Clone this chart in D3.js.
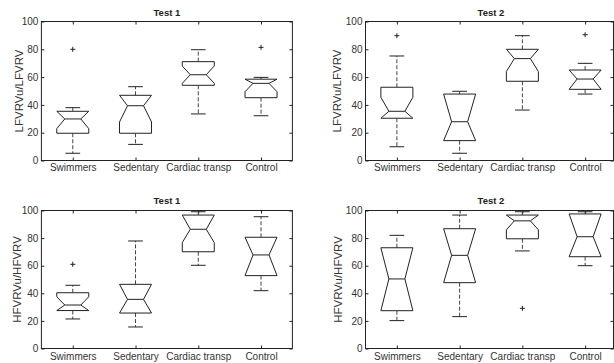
<!DOCTYPE html>
<html><head><meta charset="utf-8">
<script src="https://cdn.jsdelivr.net/npm/d3@7"></script>
<style>
html,body{margin:0;padding:0;background:#fff;}
svg{display:block;font-family:"Liberation Sans",Arial,sans-serif;}
</style></head>
<body><svg id="c" width="614" height="363"></svg>
<script>
// ---- data ----
const categories = ["Swimmers", "Sedentary", "Cardiac transp", "Control"];
const yTicks = [0, 20, 40, 60, 80, 100];
const panelTitles = ["Test 1", "Test 2", "Test 1", "Test 2"];
const yLabels = ["LFVRVu/LFVRV", "LFVRVu/LFVRV", "HFVRVu/HFVRV", "HFVRVu/HFVRV"];

// rows per category: [lowerWhisker, q1, notchLow, median, notchHigh, q3, upperWhisker]
const lfTest1 = [
  [5.2, 19.6, 22.9, 29.9, 35.4, 35.4, 38.0],
  [11.6, 19.6, 27.7, 39.4, 46.9, 46.9, 53.1],
  [33.5, 54.1, 55.5, 61.7, 68.0, 71.1, 79.7],
  [32.2, 45.2, 49.5, 55.5, 58.5, 58.5, 59.8]
];
const lfTest1Outliers = [[80], [], [], [81.4]];

const lfTest2 = [
  [9.9, 30.4, 30.4, 35.4, 45.5, 52.7, 75.2],
  [5.2, 14.3, 14.3, 27.9, 47.8, 47.8, 49.8],
  [36.3, 57.0, 64.0, 73.3, 80.0, 80.0, 89.8],
  [47.8, 51.2, 51.2, 58.6, 65.1, 65.1, 69.9]
];
const lfTest2Outliers = [[89.8], [], [], [90.5]];

const hfTest1 = [
  [21.4, 27.5, 27.5, 31.5, 37.5, 40.4, 45.8],
  [15.6, 25.7, 25.7, 35.6, 46.5, 46.5, 77.9],
  [60.3, 70.1, 76.7, 86.4, 96.7, 96.7, 99.1],
  [41.9, 52.8, 52.8, 67.8, 80.6, 80.6, 95.5]
];
const hfTest1Outliers = [[61], [], [], []];

const hfTest2 = [
  [20.2, 27.4, 27.4, 50.4, 73.0, 73.0, 82.0],
  [23.1, 47.7, 47.7, 67.5, 86.8, 86.8, 96.7],
  [70.7, 79.5, 86.0, 92.5, 96.7, 96.7, 99.1],
  [60.0, 66.5, 66.5, 81.0, 97.5, 97.5, 99.1]
];
const hfTest2Outliers = [[], [], [29.1], []];

const panelStats = [lfTest1, lfTest2, hfTest1, hfTest2];
const panelOutliers = [lfTest1Outliers, lfTest2Outliers, hfTest1Outliers, hfTest2Outliers];

// ---- layout ----
const layout = [
  {left: 41.4, top: 21.5, bottom: 160.5, titleY: 16, xLabY: 171, yLabX: 23},
  {left: 365.5, top: 21.5, bottom: 160.5, titleY: 16, xLabY: 171, yLabX: 341},
  {left: 41.4, top: 210.5, bottom: 348.5, titleY: 204, xLabY: 359.5, yLabX: 20.5},
  {left: 365.5, top: 210.5, bottom: 348.5, titleY: 204, xLabY: 359.5, yLabX: 342}
];
const plotW = 251;
const svgW = 614;
const ink = "#222";

const svg = d3.select("#c");

layout.forEach((L, pi) => {
  const right = L.left + plotW;
  const frameRight = Math.min(right, svgW - 0.5);
  const x = d3.scalePoint().domain(categories).range([L.left, right]).padding(0.5);
  const y = d3.scaleLinear().domain([0, 100]).range([L.bottom, L.top]);
  const g = svg.append("g");

  // axes (inward ticks)
  const ax = g.append("g").attr("font-size", 10).attr("fill", ink);
  const left = ax.append("g").attr("transform", `translate(${L.left},0)`)
    .call(d3.axisLeft(y).tickValues(yTicks).tickSizeInner(-3).tickSizeOuter(0).tickPadding(3));
  const rightAx = ax.append("g").attr("transform", `translate(${frameRight},0)`)
    .call(d3.axisRight(y).tickValues(yTicks).tickSizeInner(-3).tickSizeOuter(0).tickFormat(""));
  const bottom = ax.append("g").attr("transform", `translate(0,${L.bottom})`)
    .call(d3.axisBottom(x).tickSizeInner(-3).tickSizeOuter(0).tickPadding(0));
  const topAx = ax.append("g").attr("transform", `translate(0,${L.top})`)
    .call(d3.axisTop(x).tickSizeInner(-3).tickSizeOuter(0).tickFormat(""));
  [left, rightAx, bottom, topAx].forEach(a => {
    a.select(".domain").remove();
    a.selectAll("line").attr("stroke", ink);
    a.selectAll("text").attr("font-family", "Liberation Sans, Arial, sans-serif").attr("font-size", 10).attr("fill", "#333");
  });
  bottom.selectAll("text").attr("dy", null).attr("y", L.xLabY - L.bottom);

  // frame
  g.append("rect").attr("x", L.left).attr("y", L.top)
    .attr("width", frameRight - L.left).attr("height", L.bottom - L.top)
    .attr("fill", "none").attr("stroke", ink).attr("stroke-width", 1);

  // title
  g.append("text").attr("x", (L.left + right) / 2).attr("y", L.titleY)
    .attr("text-anchor", "middle").attr("font-size", 9.5).attr("font-weight", "bold")
    .attr("fill", ink).text(panelTitles[pi]);

  // y label
  g.append("text").attr("transform", `translate(${L.yLabX},${(L.top + L.bottom) / 2}) rotate(-90)`)
    .attr("text-anchor", "middle").attr("font-size", 11.5).attr("fill", "#333")
    .text(yLabels[pi]);

  // boxes
  const boxW = x.step() * 0.51;
  const hw = boxW / 2, nw = boxW / 4, cw = boxW * 0.23;
  const stats = panelStats[pi];
  const outs = panelOutliers[pi];
  categories.forEach((c, ci) => {
    const [lw, q1, nlo, med, nhi, q3, uw] = stats[ci];
    const cx = x(c);
    const bg = g.append("g").attr("fill", "none").attr("stroke", ink).attr("stroke-width", 1);
    // whiskers
    bg.append("line").attr("x1", cx).attr("x2", cx).attr("y1", y(q3)).attr("y2", y(uw))
      .attr("stroke", "#444").attr("stroke-dasharray", "4,2");
    bg.append("line").attr("x1", cx).attr("x2", cx).attr("y1", y(q1)).attr("y2", y(lw))
      .attr("stroke", "#444").attr("stroke-dasharray", "4,2");
    // caps
    bg.append("line").attr("x1", cx - cw).attr("x2", cx + cw).attr("y1", y(uw)).attr("y2", y(uw));
    bg.append("line").attr("x1", cx - cw).attr("x2", cx + cw).attr("y1", y(lw)).attr("y2", y(lw));
    // notched box
    const pts = [
      [cx - hw, y(q1)], [cx - hw, y(nlo)], [cx - nw, y(med)], [cx - hw, y(nhi)], [cx - hw, y(q3)],
      [cx + hw, y(q3)], [cx + hw, y(nhi)], [cx + nw, y(med)], [cx + hw, y(nlo)], [cx + hw, y(q1)]
    ];
    bg.append("path").attr("d", d3.line()(pts) + "Z").attr("fill", "#fff");
    // median
    bg.append("line").attr("x1", cx - nw).attr("x2", cx + nw).attr("y1", y(med)).attr("y2", y(med));
    // outliers
    outs[ci].forEach(v => {
      const oy = y(v);
      bg.append("path").attr("d", `M${cx - 2.5},${oy}H${cx + 2.5}M${cx},${oy - 2.5}V${oy + 2.5}`);
    });
  });
});
</script>
</body></html>
